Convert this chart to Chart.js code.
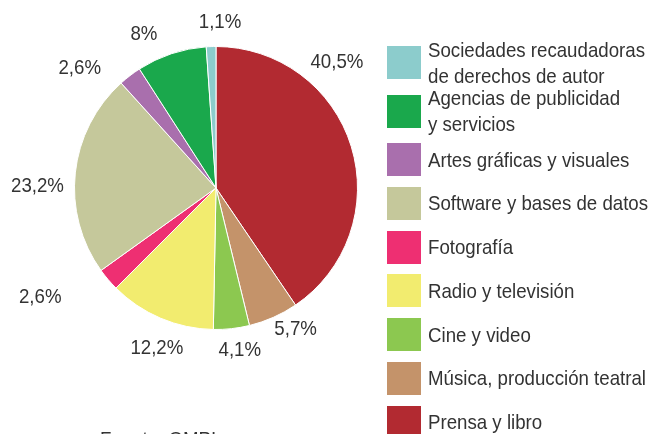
<!DOCTYPE html>
<html>
<head>
<meta charset="utf-8">
<script src="https://cdn.jsdelivr.net/npm/chart.js@4/dist/chart.umd.min.js"></script>
<style>
  body { margin: 0; background: #fff; }
  #wrap { position: relative; width: 655px; height: 434px; overflow: hidden; }
  .font { font-family: "Liberation Sans", Arial, sans-serif; font-size: 21px; color: #333; }
  #legend { position: absolute; left: 387px; top: 46px; }
  .item { display: flex; align-items: center; height: 33px; margin-bottom: 10.8px; }
  .item.two { margin-bottom: 15.5px; }
  .box { width: 34px; height: 33px; flex: none; margin-right: 7px; }
  .txt { white-space: pre; line-height: 26px; transform-origin: left center; }
  #source { position: absolute; left: 100px; top: 427px; transform-origin: left top; }
</style>
</head>
<body>
<div id="wrap">
  <canvas id="pie" width="655" height="434"></canvas>
  <div id="legend" class="font"></div>
  <div id="source" class="font">Fuente: OMPI</div>
</div>
<script>
// slices in drawing order, clockwise from 12 o'clock
const categories = [
  'Prensa y libro',
  'Música, producción teatral',
  'Cine y video',
  'Radio y televisión',
  'Fotografía',
  'Software y bases de datos',
  'Artes gráficas y visuales',
  'Agencias de publicidad\ny servicios',
  'Sociedades recaudadoras\nde derechos de autor'
];
const shares = [40.5, 5.7, 4.1, 12.2, 2.6, 23.2, 2.6, 8, 1.1];
const colors = ['#b22a31', '#c4936a', '#8cc850', '#f2ec6f', '#ee2f72', '#c5c89b', '#a96fad', '#1aa84c', '#8ccccc'];

// small hand tweaks so the % labels sit where the original put them
const labelNudge = [[-43, -75], [10, -16], [5, -8], [8, 2], [-45, -2], [-8, 16], [-32, 16], [-18, 9], [10, 6]];

const FONT = '21px "Liberation Sans", Arial, sans-serif';
const fmt = v => String(v).replace('.', ',') + '%';

// the original uses a condensed face; squeeze a regular one to the same width
const probe = document.createElement('canvas').getContext('2d');
probe.font = FONT;
const squeeze = 217 / probe.measureText('Sociedades recaudadoras').width;

const pctLabels = {
  id: 'pctLabels',
  afterDatasetsDraw(chart) {
    const ctx = chart.ctx;
    const meta = chart.getDatasetMeta(0);
    ctx.font = FONT;
    ctx.fillStyle = '#333';
    ctx.textAlign = 'center';
    ctx.textBaseline = 'middle';
    meta.data.forEach((arc, i) => {
      const p = arc.getProps(['x', 'y', 'startAngle', 'endAngle', 'outerRadius'], true);
      const mid = (p.startAngle + p.endAngle) / 2;
      const d = p.outerRadius + 30;
      ctx.save();
      ctx.translate(p.x + Math.cos(mid) * d + labelNudge[i][0], p.y + Math.sin(mid) * d + labelNudge[i][1]);
      ctx.scale(squeeze, 1);
      ctx.fillText(fmt(shares[i]), 0, 0);
      ctx.restore();
    });
  }
};

new Chart(document.getElementById('pie'), {
  type: 'pie',
  data: {
    labels: categories,
    datasets: [{
      data: shares,
      backgroundColor: colors,
      borderColor: '#fff',
      borderWidth: 1
    }]
  },
  options: {
    responsive: false,
    animation: false,
    layout: { padding: { left: 74, right: 297, top: 46, bottom: 104 } },
    plugins: {
      legend: { display: false },
      tooltip: { enabled: false }
    }
  },
  plugins: [pctLabels]
});

// legend lists the slices bottom-up
const legend = document.getElementById('legend');
for (let i = categories.length - 1; i >= 0; i--) {
  const item = document.createElement('div');
  item.className = 'item' + (categories[i].includes('\n') ? ' two' : '');
  item.innerHTML = '<div class="box" style="background:' + colors[i] + '"></div><div class="txt"></div>';
  const txt = item.querySelector('.txt');
  txt.textContent = categories[i];
  txt.style.transform = 'scaleX(' + squeeze + ')';
  legend.appendChild(item);
}
document.getElementById('source').style.transform = 'scaleX(' + squeeze + ')';
</script>
</body>
</html>
